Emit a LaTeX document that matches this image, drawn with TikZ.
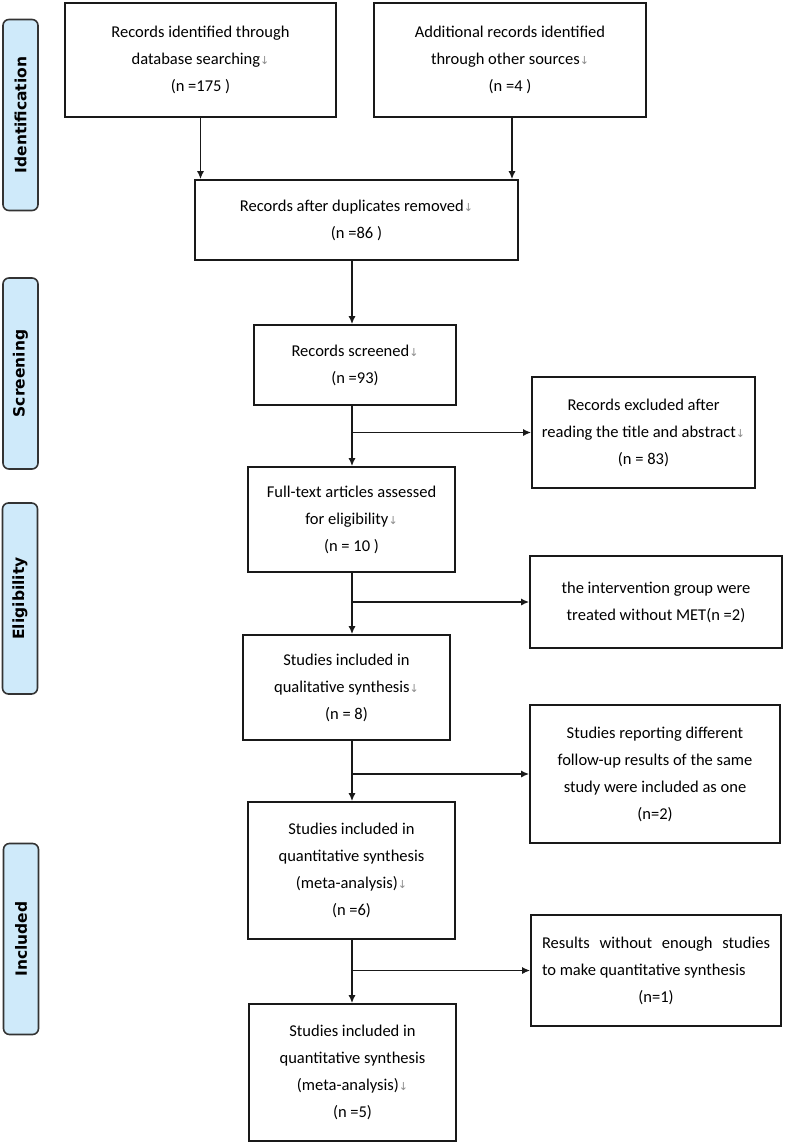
\documentclass[tikz,border=0pt]{standalone}
\usepackage{fontspec}
\setmainfont{Carlito}
\newfontfamily\symf{DejaVu Sans}
\newfontfamily\labf{DejaVu Sans}
\usetikzlibrary{arrows.meta}
\definecolor{sidefill}{HTML}{CFEAFA}
\newcommand\dn{{\color{black!45}\symf\fontsize{11}{11}\selectfont ↓}}
\begin{document}
\begin{tikzpicture}[x=1pt,y=-1pt,
 box/.style={draw=black!90, line width=1.6pt, fill=white, inner sep=0pt, align=center,
   font=\fontsize{16.5}{27}\selectfont, text=black},
 side/.style={draw=black!80, line width=1.6pt, fill=sidefill, rounded corners=6pt, rotate=90,
   inner sep=0pt, minimum width=191pt, minimum height=35pt,
   font=\labf\bfseries\fontsize{15.5}{18}\selectfont},
 arr/.style={line width=1.6pt, draw=black!90, -{Latex[length=8pt,width=7pt]}}]
\path[fill=white] (0,0) rectangle (787,1144);
\useasboundingbox (0,0) rectangle (787,1144);

% side labels
\node[side] (s1) at (20.5,115) {Identification};
\node[side] (s2) at (20.5,373.5) {Screening};
\node[side] (s3) at (20,598.5) {Eligibility};
\node[side] (s4) at (21,939) {Included};

% boxes
\node[box, minimum width=271pt, minimum height=114pt] (A) at (200.5,60)
  {Records identified through\\ database searching\dn\\ (n =175 )};
\node[box, minimum width=272pt, minimum height=114pt] (B) at (510,60)
  {Additional records identified\\ through other sources\dn\\ (n =4 )};
\node[box, minimum width=323pt, minimum height=80pt] (C) at (356.5,220)
  {Records after duplicates removed\dn\\ (n =86 )};
\node[box, minimum width=202pt, minimum height=80pt] (D) at (355,365)
  {Records screened\dn\\ (n =93)};
\node[box, minimum width=223pt, minimum height=111pt] (E) at (643.5,432.5)
  {Records excluded after\\ reading the title and abstract\dn\\ (n = 83)};
\node[box, minimum width=207pt, minimum height=105pt] (F) at (351.5,519.5)
  {Full-text articles assessed\\ for eligibility\dn\\ (n = 10 )};
\node[box, minimum width=252pt, minimum height=92pt] (G) at (656,602)
  {the intervention group were\\ treated without MET(n =2)};
\node[box, minimum width=207pt, minimum height=105pt] (H) at (346.5,687.5)
  {Studies included in\\ qualitative synthesis\dn\\ (n = 8)};
\node[box, minimum width=250pt, minimum height=138pt] (I) at (655,774)
  {Studies reporting different\\ follow-up results of the same\\ study were included as one\\ (n=2)};
\node[box, minimum width=207pt, minimum height=137pt] (J) at (351.5,870.5)
  {Studies included in\\ quantitative synthesis\\ (meta-analysis)\dn\\ (n =6)};
\node[box, minimum width=250pt, minimum height=111pt] (K) at (656,970.5)
  {\makebox[228pt][s]{Results without enough studies}\\
   \makebox[228pt][l]{to make quantitative synthesis}\\ (n=1)};
\node[box, minimum width=207pt, minimum height=137pt] (L) at (352.5,1072.5)
  {Studies included in\\ quantitative synthesis\\ (meta-analysis)\dn\\ (n =5)};

% connectors
\coordinate (sp) at (352,0);
\draw[arr] (A.south) -- (A.south |- C.north);
\draw[arr] ([xshift=2pt]B.south) -- ([xshift=2pt]B.south |- C.north);
\draw[arr] (C.south -| sp) -- (D.north -| sp);
\draw[arr] (D.south -| sp) -- (F.north -| sp);
\draw[arr] (F.south -| sp) -- (H.north -| sp);
\draw[arr] (H.south -| sp) -- (J.north -| sp);
\draw[arr] (J.south -| sp) -- (L.north -| sp);
\draw[arr] (sp |- E.west) -- (E.west);
\draw[arr] (sp |- G.west) -- (G.west);
\draw[arr] (sp |- I.west) -- (I.west);
\draw[arr] (sp |- K.west) -- (K.west);
\end{tikzpicture}
\end{document}
